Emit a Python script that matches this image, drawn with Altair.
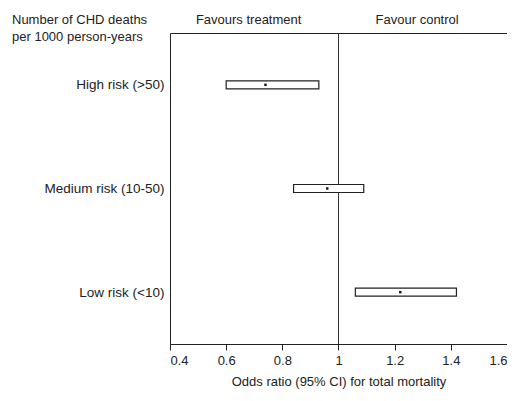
import altair as alt
import pandas as pd

groups = ["High risk (>50)", "Medium risk (10-50)", "Low risk (<10)"]
odds = [0.74, 0.96, 1.22]
lower = [0.60, 0.84, 1.06]
upper = [0.93, 1.09, 1.42]
tick_values = [0.4, 0.6, 0.8, 1.0, 1.2, 1.4, 1.6]
header_text = ["Favours treatment", "Favour control"]
header_x = [0.68, 1.28]

df = pd.DataFrame({"group": groups, "odds": odds, "lo": lower, "hi": upper})
hdr = pd.DataFrame({"label": header_text, "x": header_x})

FONT = "Liberation Sans"
xscale = alt.Scale(domain=[0.4, 1.6], nice=False, zero=False)
yscale = alt.Scale(type="point", domain=groups, padding=0.5)

base = alt.Chart(df)

boxes = base.mark_bar(height=8, fill="white", stroke="#222", strokeWidth=1.2).encode(
    x=alt.X("lo:Q", scale=xscale,
            axis=alt.Axis(values=tick_values, format="~g", labelFlush=True,
                          title="Odds ratio (95% CI) for total mortality",
                          titlePadding=8, tickSize=6, grid=False, labelPadding=4,
                          domainColor="#222", tickColor="#222")),
    x2="hi:Q",
    y=alt.Y("group:N", scale=yscale, sort=groups,
            axis=alt.Axis(title=None, ticks=False, domain=False, labelPadding=6,
                          labelFontSize=13.5, labelColor="#222")),
)

dots = base.mark_point(filled=True, shape="square", size=6, color="#111", opacity=1).encode(
    x=alt.X("odds:Q", scale=xscale),
    y=alt.Y("group:N", scale=yscale, sort=groups),
)

rule = alt.Chart(pd.DataFrame({"v": [1.0]})).mark_rule(color="#333", strokeWidth=1).encode(
    x=alt.X("v:Q", scale=xscale)
)

headers = alt.Chart(hdr).mark_text(font=FONT, fontSize=13, color="#222", baseline="middle").encode(
    x=alt.X("x:Q", scale=xscale),
    y=alt.value(-13),
    text="label:N",
)

left_title = alt.Chart(pd.DataFrame({"t": ["Number of CHD deaths"]})).mark_text(
    font=FONT, fontSize=13, color="#222", align="left", baseline="middle", lineHeight=17,
    text=["Number of CHD deaths", "per 1000 person-years"]
).encode(x=alt.value(-158), y=alt.value(-13))

chart = alt.layer(rule, boxes, dots, headers, left_title).properties(
    width=337, height=311,
    autosize=alt.AutoSizeParams(type="none"),
    padding={"left": 162, "top": 25, "right": 0, "bottom": 49},
).configure_view(stroke="#222", strokeWidth=1).configure_axis(
    labelFont=FONT, titleFont=FONT, labelFontSize=13, titleFontSize=13,
    titleFontWeight="normal", labelColor="#222", titleColor="#222"
)

chart.save("out.html", embed_options={"renderer": "svg", "actions": False})
